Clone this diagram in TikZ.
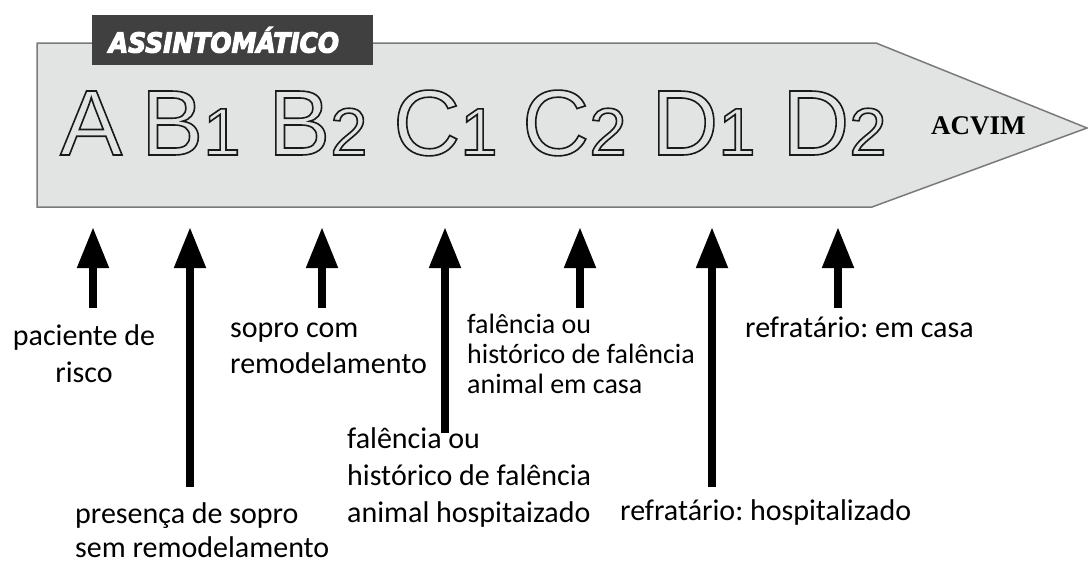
\documentclass[tikz,border=0pt]{standalone}
\usepackage{fontspec}
\setmainfont{Carlito}
\newfontfamily\outfont{Liberation Sans}
\newfontfamily\tagfont{DejaVu Sans}
\newfontfamily\serffont{Liberation Serif}
\usetikzlibrary{arrows.meta}
\definecolor{bodyfill}{HTML}{E2E3E3}
\definecolor{bodyline}{HTML}{7A7A7A}
\definecolor{tagfill}{HTML}{404040}
\tikzset{
  stage/.style={anchor=base west,inner sep=0pt,font=\outfont\fontsize{93}{93}\selectfont},
  lbl/.style={anchor=base west,inner sep=0pt,align=left,font=\fontsize{30}{37}\selectfont},
  upar/.style={line width=8pt,-{Triangle[width=30pt,length=41pt]}}
}
\newcommand{\outl}[1]{\special{pdf:literal direct 1 Tr 1.6 w 0.1 G}#1\special{pdf:literal direct 0 Tr}}
\newcommand{\stg}[2]{\outl{#1{\fontsize{67}{67}\selectfont #2}}}
\begin{document}
\begin{tikzpicture}[x=1pt,y=-1pt]
\frenchspacing
\useasboundingbox (0,0) rectangle (1088,563);
% body
\draw[fill=bodyfill,draw=bodyline,line width=1.5pt] (37,43) -- (876,43) -- (1087,128) -- (872,207) -- (37,207) -- cycle;
% tag
\node[fill=tagfill,minimum width=281pt,minimum height=50pt,inner sep=0pt] (tag) at (232.5,40) {};
\node[inner sep=0pt,text=white] (tagtxt) at (224,40) {\scalebox{0.91}[1]{\tagfont\bfseries\itshape\fontsize{27.4}{27.4}\selectfont\special{pdf:literal direct 2 Tr 1.2 w 1 G}ASSINTOMÁTICO\special{pdf:literal direct 0 Tr}}};
% stages
\node[stage] (sA) at (60,155) {\outl{A}};
\node[stage] (sB1) at (141,155) {\stg{B}{1}};
\node[stage] (sB2) at (268,155) {\stg{B}{2}};
\node[stage] (sC1) at (393,155) {\stg{C}{1}};
\node[stage] (sC2) at (522,155) {\stg{C}{2}};
\node[stage] (sD1) at (651,155) {\stg{D}{1}};
\node[stage] (sD2) at (782,155) {\stg{D}{2}};
\node[anchor=base west,inner sep=0pt,font=\serffont\bfseries\fontsize{27}{27}\selectfont] (acvim) at (931,134) {ACVIM};
% arrow coordinates
\coordinate (t1) at (93,227);  \coordinate (b1) at (93,308);
\coordinate (t2) at (190,227); \coordinate (b2) at (190,487);
\coordinate (t3) at (322,227); \coordinate (b3) at (322,308);
\coordinate (t4) at (445,227); \coordinate (b4) at (445,433);
\coordinate (t5) at (580,227); \coordinate (b5) at (580,308);
\coordinate (t6) at (712,227); \coordinate (b6) at (712,487);
\coordinate (t7) at (838,227); \coordinate (b7) at (838,308);
\foreach \i in {1,...,7} {\draw[upar] (b\i) -- (t\i);}
% labels (base anchor = baseline of last line)
\node[lbl,align=center,anchor=base] (l1) at (84,382) {paciente de\\risco};
\node[lbl,font=\fontsize{30}{34}\selectfont] (l2) at (75,557) {presença de sopro\\sem remodelamento};
\node[lbl,font=\fontsize{30}{36}\selectfont] (l3) at (230,373) {sopro com\\remodelamento};
\node[lbl] (l4) at (347,522) {falência ou\\histórico de falência\\animal hospitaizado};
\node[lbl,font=\fontsize{28}{30}\selectfont] (l5) at (467,393) {falência ou\\histórico de falência\\animal em casa};
\node[lbl] (l6) at (620,520) {refratário: hospitalizado};
\node[lbl] (l7) at (745,337) {refratário: em casa};
\end{tikzpicture}
\end{document}
